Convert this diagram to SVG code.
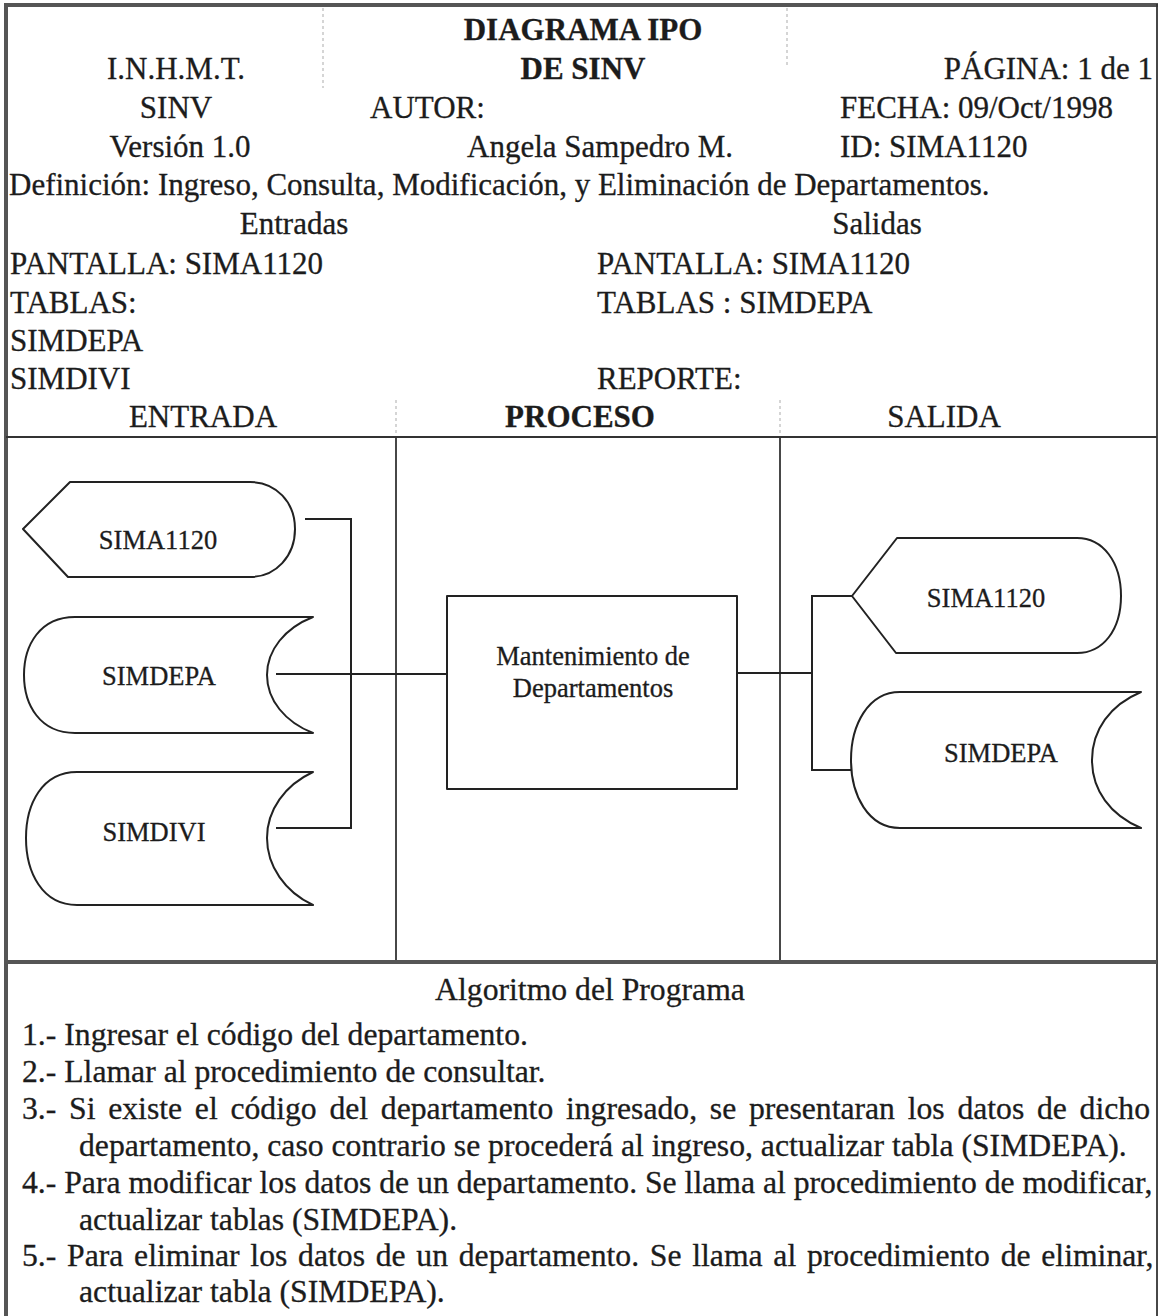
<svg xmlns="http://www.w3.org/2000/svg" width="1161" height="1316" viewBox="0 0 1161 1316">
  <style>
    text { font-family: "Liberation Serif", "Times New Roman", serif; fill: #1c1c1c; stroke: #1c1c1c; stroke-width: 0.3px; }
    .hd { font-size: 31px; }
    .alg { font-size: 31.7px; }
    .bold { font-weight: bold; }
    .mid { text-anchor: middle; }
    .end { text-anchor: end; }
    .lbl { font-size: 26.5px; }
    .shape { fill: #ffffff; stroke: #222; stroke-width: 2; stroke-linejoin: round; }
    .rule { stroke: #333; stroke-width: 1.8; fill: none; }
    .heavy { stroke: #555; stroke-width: 4; fill: none; }
    .faint { stroke: #c8c8c8; stroke-width: 1.5; stroke-dasharray: 3 3; fill: none; }
    .wire { stroke: #222; stroke-width: 2; fill: none; }
  </style>

  <rect width="1161" height="1316" fill="#ffffff"/>

  <!-- frame and table rules -->
  <g id="frame">
    <line class="heavy" x1="4" y1="5" x2="1158" y2="5"/>
    <line class="heavy" x1="6" y1="4" x2="6" y2="1316"/>
    <line class="rule" x1="1157" y1="4" x2="1157" y2="962"/>
    <line class="rule" x1="1157" y1="962" x2="1157" y2="1316" stroke="#888"/>
    <line class="faint" x1="323" y1="8" x2="323" y2="88"/>
    <line class="faint" x1="787" y1="8" x2="787" y2="66"/>
    <line class="faint" x1="396" y1="400" x2="396" y2="437"/>
    <line class="faint" x1="780" y1="400" x2="780" y2="437"/>
    <line class="rule" x1="6" y1="437" x2="1157" y2="437"/>
    <line class="rule" x1="396" y1="437" x2="396" y2="962"/>
    <line class="rule" x1="780" y1="437" x2="780" y2="962"/>
    <line class="heavy" x1="6" y1="962" x2="1157" y2="962"/>
  </g>

  <!-- header block -->
  <g id="header">
    <text class="hd mid bold" x="583" y="40">DIAGRAMA IPO</text>
    <text class="hd mid" x="176" y="79">I.N.H.M.T.</text>
    <text class="hd mid bold" x="583" y="79">DE SINV</text>
    <text class="hd end" x="1153" y="79">PÁGINA: 1 de 1</text>
    <text class="hd mid" x="176" y="118">SINV</text>
    <text class="hd" x="370" y="118">AUTOR:</text>
    <text class="hd" x="840" y="118">FECHA: 09/Oct/1998</text>
    <text class="hd mid" x="180" y="157">Versión 1.0</text>
    <text class="hd" x="467" y="157">Angela Sampedro M.</text>
    <text class="hd" x="840" y="157">ID: SIMA1120</text>
    <text class="hd" x="9" y="195">Definición: Ingreso, Consulta, Modificación, y Eliminación de Departamentos.</text>
    <text class="hd mid" x="294" y="234">Entradas</text>
    <text class="hd mid" x="877" y="234">Salidas</text>
    <text class="hd" x="10" y="274">PANTALLA: SIMA1120</text>
    <text class="hd" x="597" y="274">PANTALLA: SIMA1120</text>
    <text class="hd" x="10" y="313">TABLAS:</text>
    <text class="hd" x="597" y="313">TABLAS :  SIMDEPA</text>
    <text class="hd" x="10" y="351">SIMDEPA</text>
    <text class="hd" x="10" y="389">SIMDIVI</text>
    <text class="hd" x="597" y="389">REPORTE:</text>
    <text class="hd mid" x="203" y="427">ENTRADA</text>
    <text class="hd mid bold" x="580" y="427">PROCESO</text>
    <text class="hd mid" x="944" y="427">SALIDA</text>
  </g>

  <!-- connectors -->
  <g id="connectors">
    <path class="wire" d="M305,519 H351 V828 H276"/>
    <path class="wire" d="M276,674 H447"/>
    <path class="wire" d="M737,673 H812"/>
    <path class="wire" d="M852,596 H812 V770 H851"/>
  </g>

  <!-- inputs -->
  <g id="in-sima1120">
    <path class="shape" d="M23,529 L70,482 L250,482 C276,482 295,502 295,529 C295,556 276,577 250,577 L68,577 Z"/>
    <text class="lbl mid" x="158" y="549">SIMA1120</text>
  </g>
  <g id="in-simdepa">
    <path class="shape" d="M75,617 L313,617 C285,628 267,650 267,675 C267,700 285,722 313,733 L75,733 C40,733 24,705 24,675 C24,645 40,617 75,617 Z"/>
    <text class="lbl mid" x="159" y="685">SIMDEPA</text>
  </g>
  <g id="in-simdivi">
    <path class="shape" d="M77,772 L313,772 C285,785 267,810 267,838 C267,866 285,892 313,905 L77,905 C42,905 26,872 26,838 C26,804 42,772 77,772 Z"/>
    <text class="lbl mid" x="154" y="841">SIMDIVI</text>
  </g>

  <!-- process -->
  <g id="process">
    <rect class="shape" x="447" y="596" width="290" height="193"/>
    <text class="lbl mid" x="593" y="665">Mantenimiento de</text>
    <text class="lbl mid" x="593" y="697">Departamentos</text>
  </g>

  <!-- outputs -->
  <g id="out-sima1120">
    <path class="shape" d="M852,596 L897,538 L1077,538 C1103,538 1121,562 1121,596 C1121,630 1103,653 1077,653 L896,653 Z"/>
    <text class="lbl mid" x="986" y="607">SIMA1120</text>
  </g>
  <g id="out-simdepa">
    <path class="shape" d="M900,692 L1141,692 C1110,705 1092,730 1092,760 C1092,790 1110,815 1141,828 L900,828 C868,828 851,795 851,760 C851,725 868,692 900,692 Z"/>
    <text class="lbl mid" x="1001" y="762">SIMDEPA</text>
  </g>

  <!-- algorithm -->
  <g id="algorithm">
    <text class="alg mid" x="590" y="1000">Algoritmo del Programa</text>
    <text class="alg" x="22" y="1045">1.- Ingresar el código del departamento.</text>
    <text class="alg" x="22" y="1082">2.- Llamar al procedimiento de consultar.</text>
    <text class="alg" x="22" y="1119" word-spacing="4.8">3.- Si existe el código del departamento ingresado, se presentaran los datos de dicho</text>
    <text class="alg" x="79" y="1156">departamento, caso contrario se procederá al ingreso, actualizar tabla (SIMDEPA).</text>
    <text class="alg" x="22" y="1193">4.- Para modificar los datos de un departamento. Se llama al procedimiento de modificar,</text>
    <text class="alg" x="79" y="1230">actualizar tablas (SIMDEPA).</text>
    <text class="alg" x="22" y="1266" word-spacing="2.8">5.- Para eliminar los datos de un departamento. Se llama al procedimiento de eliminar,</text>
    <text class="alg" x="79" y="1302">actualizar tabla (SIMDEPA).</text>
  </g>
</svg>
